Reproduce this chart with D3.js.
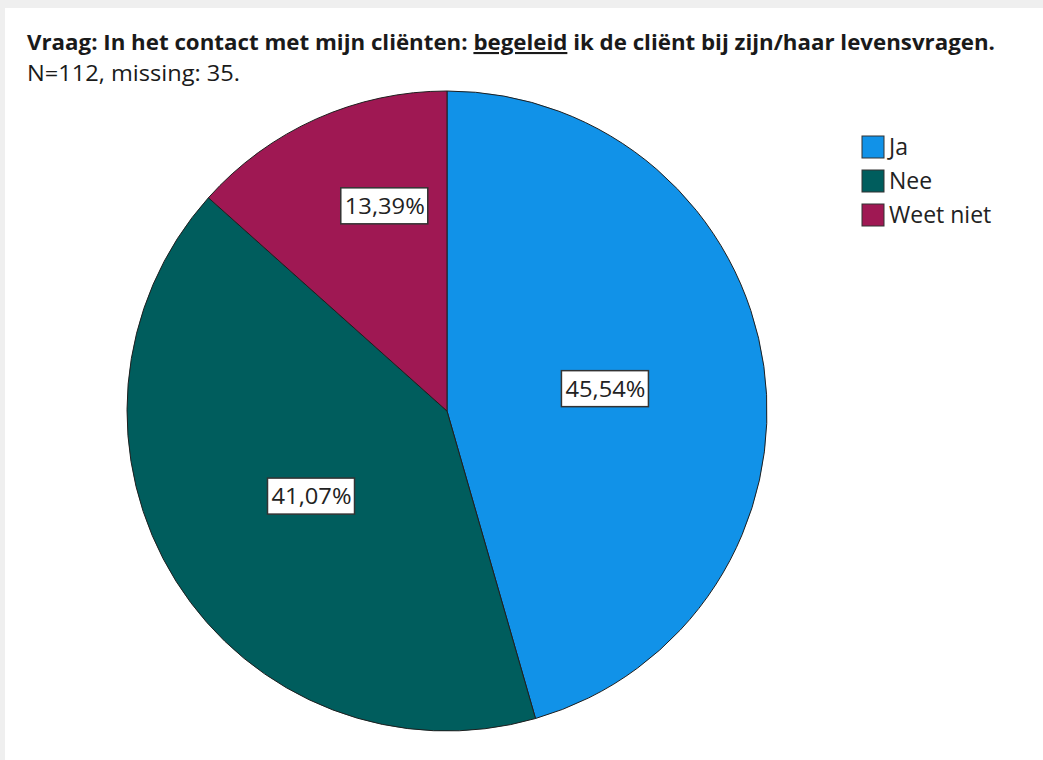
<!DOCTYPE html>
<html>
<head>
<meta charset="utf-8">
<script src="https://cdn.jsdelivr.net/npm/d3@7"></script>
<style>
  body { margin: 0; background: #ffffff; }
  svg { display: block; font-family: "Open Sans", "Noto Sans", sans-serif; }
</style>
</head>
<body>
<svg id="chart"></svg>
<script>
const categories = ['Ja', 'Nee', 'Weet niet'];
const percentages = [45.54, 41.07, 13.39];
const sliceColors = ['#1192e8', '#005d5d', '#9f1853'];
const titleParts = ['Vraag: In het contact met mijn cliënten: ', 'begeleid', ' ik de cliënt bij zijn/haar levensvragen.'];
const subtitle = 'N=112, missing: 35.';

const width = 1043;
const height = 760;
const svg = d3.select('#chart').attr('width', width).attr('height', height);

// grey frame strip like the screenshot edge
svg.append('rect').attr('width', width).attr('height', height).attr('fill', '#efefef');
svg.append('rect').attr('x', 5).attr('y', 8).attr('width', width - 5).attr('height', height - 8).attr('fill', '#ffffff');

const title = svg.append('text')
  .attr('x', 27)
  .attr('y', 50)
  .attr('font-size', 21)
  .attr('font-weight', 'bold')
  .attr('fill', '#1a1a1a')
  .attr('textLength', 968)
  .attr('lengthAdjust', 'spacingAndGlyphs');
titleParts.forEach((part, i) => {
  title.append('tspan')
    .attr('text-decoration', i === 1 ? 'underline' : null)
    .text(part);
});

svg.append('text')
  .attr('x', 27)
  .attr('y', 81)
  .attr('font-size', 21)
  .attr('fill', '#1a1a1a')
  .attr('textLength', 213)
  .attr('lengthAdjust', 'spacingAndGlyphs')
  .text(subtitle);

const cx = 447;
const cy = 411;
const radius = 320;

const color = d3.scaleOrdinal().domain(categories).range(sliceColors);
const data = categories.map((c, i) => ({ category: c, value: percentages[i] }));
const pie = d3.pie().sort(null).value(d => d.value);
const arcs = pie(data);
const arc = d3.arc().innerRadius(0).outerRadius(radius);

const plot = svg.append('g').attr('transform', `translate(${cx},${cy})`);

plot.selectAll('path')
  .data(arcs)
  .join('path')
  .attr('d', arc)
  .attr('fill', d => color(d.data.category))
  .attr('stroke', '#1f1f1f')
  .attr('stroke-width', 1);

const fmt = v => v.toFixed(2).replace('.', ',') + '%';

const labels = plot.selectAll('g.label')
  .data(arcs)
  .join('g')
  .attr('class', 'label')
  .attr('transform', d => {
    const small = d.data.value < 20;
    const r = small ? radius * 0.67 : radius * 0.5;
    // small slice label sits a bit nearer the slice edge it shares with the first slice
    const a = small ? d.startAngle * 0.35 + d.endAngle * 0.65 : (d.startAngle + d.endAngle) / 2;
    return `translate(${Math.sin(a) * r},${-Math.cos(a) * r})`;
  });

labels.append('rect')
  .attr('x', -44)
  .attr('y', -18)
  .attr('width', 87)
  .attr('height', 36)
  .attr('fill', '#ffffff')
  .attr('stroke', '#333333')
  .attr('stroke-width', 1.5);

labels.append('text')
  .attr('text-anchor', 'middle')
  .attr('dy', '0.36em')
  .attr('font-size', 22)
  .attr('fill', '#222222')
  .attr('textLength', 80)
  .attr('lengthAdjust', 'spacingAndGlyphs')
  .text(d => fmt(d.data.value));

const legend = svg.append('g').attr('transform', 'translate(862,136)');
const items = legend.selectAll('g')
  .data(categories)
  .join('g')
  .attr('transform', (d, i) => `translate(0,${i * 34})`);
items.append('rect')
  .attr('width', 22)
  .attr('height', 22)
  .attr('fill', d => color(d))
  .attr('stroke', '#333333')
  .attr('stroke-width', 1);
items.append('text')
  .attr('x', 27)
  .attr('y', 19)
  .attr('font-size', 23)
  .attr('fill', '#222222')
  .text(d => d);
</script>
</body>
</html>
